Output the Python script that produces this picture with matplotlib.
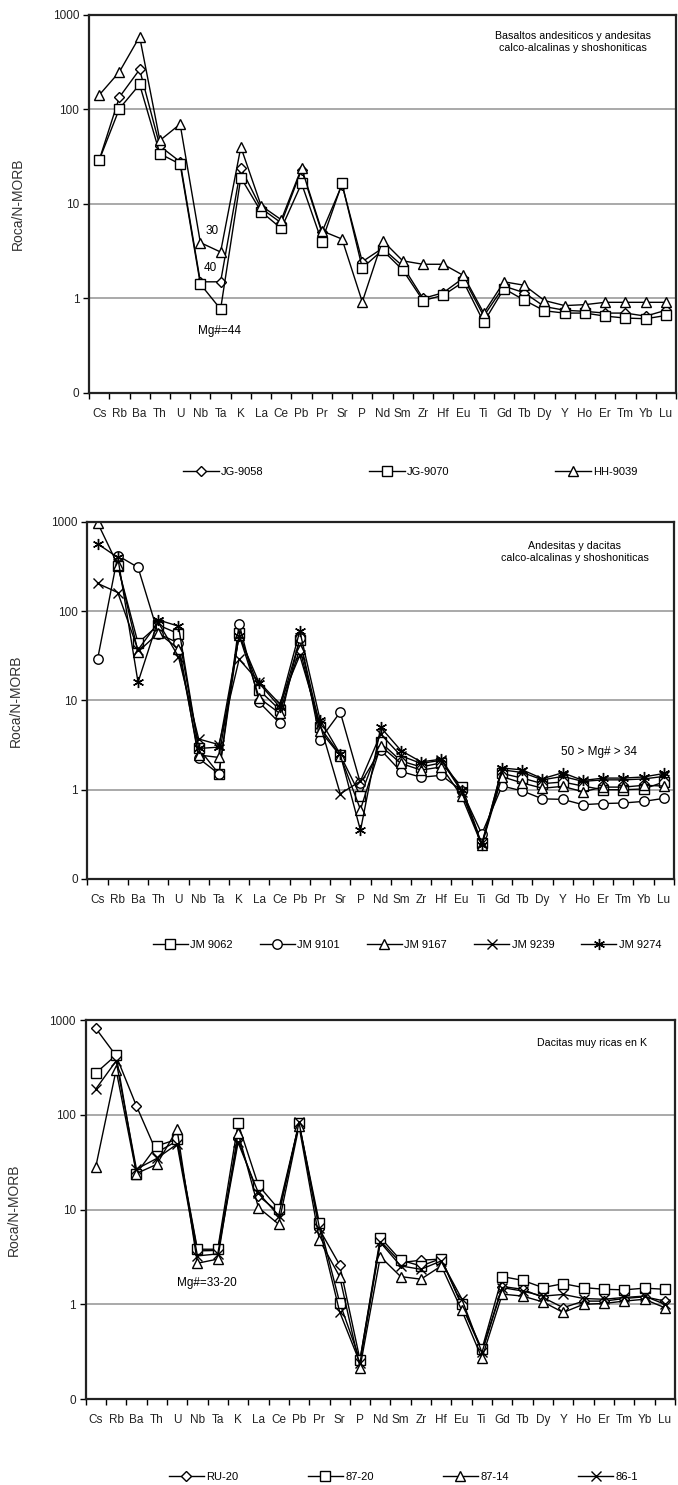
import numpy as np
import matplotlib
matplotlib.use("Agg")
import matplotlib.pyplot as plt
from matplotlib.ticker import FixedLocator, NullFormatter

plt.rcParams['font.family'] = ['Liberation Sans', 'DejaVu Sans']

elements = ['Cs', 'Rb', 'Ba', 'Th', 'U', 'Nb', 'Ta', 'K', 'La', 'Ce', 'Pb', 'Pr', 'Sr', 'P', 'Nd',
            'Sm', 'Zr', 'Hf', 'Eu', 'Ti', 'Gd', 'Tb', 'Dy', 'Y', 'Ho', 'Er', 'Tm', 'Yb', 'Lu']

y_ticks = [0.1, 1, 10, 100, 1000]
y_ticklabels = ['0', '1', '10', '100', '1000']

# panel 1 - basaltos andesiticos
jg9058 = [29, 135, 265, 41, 28, 1.5, 1.5, 24, 9, 6.3, 23, 5, 16, 2.45, 3.4,
          2.2, 1.0, 1.15, 1.65, 0.65, 1.35, 1.15, 0.82, 0.75, 0.73, 0.7, 0.7, 0.65, 0.75]
jg9070 = [29, 102, 184, 34, 26.4, 1.42, 0.77, 19, 8.3, 5.5, 16.5, 4.0, 16.5, 2.1, 3.25,
          2.0, 0.95, 1.08, 1.5, 0.56, 1.27, 0.96, 0.74, 0.7, 0.7, 0.65, 0.62, 0.61, 0.66]
hh9039 = [142, 250, 590, 47, 70, 3.9, 3.1, 40, 9.6, 6.8, 24, 5.2, 4.25, 0.92, 4.1,
          2.5, 2.3, 2.3, 1.75, 0.7, 1.5, 1.38, 0.95, 0.84, 0.86, 0.91, 0.91, 0.91, 0.91]

# panel 2 - andesitas y dacitas
jm9062 = [np.nan, 320, 44, 70, 56, 2.9, 1.5, 57, 13, 7.9, 48, 5.0, 2.45, 0.85, 3.4,
          2.1, 1.8, 2.0, 1.08, 0.25, 1.52, 1.35, 1.17, 1.22, 1.1, 1.0, 1.0, 1.02, 1.22]
jm9101 = [29, 420, 310, 56, 44, 2.25, 1.5, 72, 9.5, 5.6, 50, 3.65, 7.4, 1.18, 2.8,
          1.6, 1.38, 1.45, 0.98, 0.32, 1.1, 0.97, 0.79, 0.78, 0.68, 0.7, 0.71, 0.74, 0.8]
jm9167 = [980, 330, 35, 57, 38, 2.45, 2.3, 54, 10.6, 7.2, 38, 4.6, 2.4, 0.6, 3.1,
          1.97, 1.66, 1.8, 0.85, 0.24, 1.4, 1.19, 1.04, 1.09, 0.95, 1.07, 1.07, 1.12, 1.1]
jm9239 = [205, 162, 37, 75, 31, 3.7, 3.2, 29, 16, 9.2, 32, 5.4, 0.9, 1.25, 4.2,
          2.4, 1.97, 2.14, 0.95, 0.25, 1.67, 1.56, 1.29, 1.41, 1.24, 1.29, 1.29, 1.32, 1.41]
jm9274 = [570, 400, 16, 80, 68, 2.9, 3.0, 53, 15.5, 8.5, 60, 6.1, 2.5, 0.35, 5.0,
          2.75, 2.05, 2.2, 1.0, 0.24, 1.75, 1.67, 1.33, 1.55, 1.27, 1.35, 1.35, 1.39, 1.52]

# panel 3 - dacitas muy ricas en K
ru20 = [817, 420, 124, 40, 53, 3.66, 3.7, 55, 14, 9.3, 80, 6.2, 2.6, 0.26, 4.67,
        2.75, 2.92, 3.0, 0.98, 0.32, 1.54, 1.44, 1.18, 0.92, 1.08, 1.08, 1.15, 1.2, 1.08]
s8720 = [275, 427, 24, 47, 55, 3.81, 3.81, 81, 18, 10.1, 81, 7.2, 1.04, 0.258, 5.06,
         2.92, 2.54, 3.04, 1.0, 0.335, 1.96, 1.79, 1.5, 1.65, 1.5, 1.44, 1.42, 1.48, 1.44]
s8714 = [28.3, 297, 24, 30, 70, 2.71, 3.0, 65, 10.5, 7.0, 76, 4.8, 1.96, 0.214, 3.19,
         1.96, 1.84, 2.54, 0.87, 0.27, 1.28, 1.22, 1.06, 0.82, 1.0, 1.02, 1.08, 1.13, 0.92]
s861 = [187, 370, 26.7, 34.6, 49, 3.24, 3.4, 51, 15, 8.6, 83, 6.45, 0.83, 0.24, 4.5,
        2.54, 2.34, 2.87, 1.15, 0.31, 1.5, 1.38, 1.22, 1.27, 1.15, 1.13, 1.18, 1.22, 1.0]

star = (6, 2, 0)

fig = plt.figure(figsize=(6.78, 14.85), dpi=100)


def make_axes(rect):
    ax = fig.add_axes(rect)
    ax.set_yscale('log')
    ax.set_ylim(0.1, 1000)
    ax.set_xlim(-0.5, len(elements) - 0.5)
    ax.yaxis.set_major_locator(FixedLocator(y_ticks))
    ax.set_yticklabels(y_ticklabels)
    ax.yaxis.set_minor_locator(FixedLocator([]))
    ax.yaxis.set_minor_formatter(NullFormatter())
    ax.set_xticks(np.arange(len(elements)))
    ax.set_xticklabels(elements)
    ax.set_xticks(np.arange(len(elements) + 1) - 0.5, minor=True)
    ax.tick_params(axis='x', which='major', length=0, pad=11, labelsize=8.5, labelcolor='#222222')
    ax.tick_params(axis='x', which='minor', length=4, width=1, direction='out')
    ax.tick_params(axis='y', which='major', length=4, width=1, pad=3, labelsize=8.5,
                   labelcolor='#222222')
    for v in [1, 10, 100]:
        ax.axhline(v, color='#a9a9a9', lw=1.4, zorder=0)
    for s in ax.spines.values():
        s.set_linewidth(1.6)
        s.set_color('#222222')
    ax.set_ylabel('Roca/N-MORB', fontsize=10, color='#333333')
    ax.yaxis.set_label_coords(-0.11, 0.5)
    return ax


def draw(ax, series, labels, markers, sizes):
    x = np.arange(len(elements))
    for vals, lab, m, ms in zip(series, labels, markers, sizes):
        ax.plot(x, vals, color='black', lw=1.0, marker=m, markersize=ms,
                markerfacecolor='white', markeredgecolor='black', markeredgewidth=1.0,
                label=lab)


# ---------- panel 1 ----------
ax1 = make_axes([0.1313, 0.7354, 0.8658, 0.2545])
draw(ax1, [jg9058, jg9070, hh9039], ['JG-9058', 'JG-9070', 'HH-9039'],
     ['D', 's', '^'], [5.3, 6.8, 7.2])
ax1.text(0.824, 0.929, 'Basaltos andesiticos y andesitas\ncalco-alcalinas y shoshoniticas',
         transform=ax1.transAxes, ha='center', va='center', fontsize=7.7, linespacing=1.25)
ax1.text(5.6, 5.2, '30', ha='center', va='center', fontsize=8.5)
ax1.text(5.5, 2.08, '40', ha='center', va='center', fontsize=8.5)
ax1.text(5.97, 0.45, 'Mg#=44', ha='center', va='center', fontsize=8.5)
ax1.legend(loc='center', bbox_to_anchor=(0.605, 1 - 472 / 1485), bbox_transform=fig.transFigure,
           ncol=3, frameon=False, fontsize=8, handlelength=3.2, handletextpad=0.2,
           columnspacing=9.5)

# ---------- panel 2 ----------
ax2 = make_axes([0.129, 0.4081, 0.865, 0.2404])
draw(ax2, [jm9062, jm9101, jm9167, jm9239, jm9274],
     ['JM 9062', 'JM 9101', 'JM 9167', 'JM 9239', 'JM 9274'],
     ['s', 'o', '^', 'x', star], [6.8, 6.8, 7.2, 6.5, 8])
ax2.text(0.831, 0.915, 'Andesitas y dacitas\ncalco-alcalinas y shoshoniticas',
         transform=ax2.transAxes, ha='center', va='center', fontsize=7.7, linespacing=1.25)
ax2.text(24.8, 2.66, '50 > Mg# > 34', ha='center', va='center', fontsize=8.5)
ax2.legend(loc='center', bbox_to_anchor=(0.6, 1 - 945 / 1485), bbox_transform=fig.transFigure,
           ncol=5, frameon=False, fontsize=8, handlelength=3.2, handletextpad=0.2,
           columnspacing=2.4)

# ---------- panel 3 ----------
ax3 = make_axes([0.1263, 0.0579, 0.8693, 0.2552])
draw(ax3, [ru20, s8720, s8714, s861], ['RU-20', '87-20', '87-14', '86-1'],
     ['D', 's', '^', 'x'], [5.3, 6.8, 7.2, 6.5])
ax3.text(0.859, 0.939, 'Dacitas muy ricas en K', transform=ax3.transAxes,
         ha='center', va='center', fontsize=7.7)
ax3.text(5.47, 1.67, 'Mg#=33-20', ha='center', va='center', fontsize=8.5)
ax3.legend(loc='center', bbox_to_anchor=(0.595, 1 - 1477 / 1485), bbox_transform=fig.transFigure,
           ncol=4, frameon=False, fontsize=8, handlelength=3.2, handletextpad=0.2,
           columnspacing=6.2)

fig.savefig('out.png', dpi=100)
